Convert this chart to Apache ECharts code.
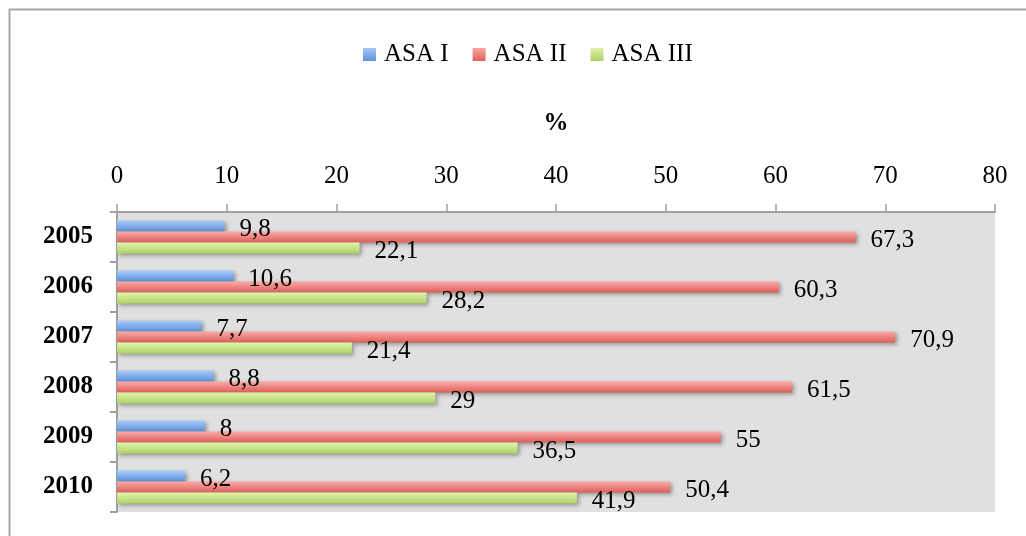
<!DOCTYPE html>
<html>
<head>
<meta charset="utf-8">
<script src="https://cdn.jsdelivr.net/npm/echarts@6/dist/echarts.min.js"></script>
<style>
  html, body { margin: 0; padding: 0; background: #ffffff; }
  #chart { width: 1026px; height: 536px; }
</style>
</head>
<body>
<div id="chart"></div>
<script>
// Years shown on the category axis, top to bottom
const years = ['2005', '2006', '2007', '2008', '2009', '2010'];
// Share of patients per ASA class, %
const asaI = [9.8, 10.6, 7.7, 8.8, 8, 6.2];
const asaII = [67.3, 60.3, 70.9, 61.5, 55, 50.4];
const asaIII = [22.1, 28.2, 21.4, 29, 36.5, 41.9];
const seriesNames = ['ASA I', 'ASA II', 'ASA III'];

const serif = '"Liberation Serif", "Times New Roman", serif';
const fontSize = 25;

function grad(top, bottom) {
  return new echarts.graphic.LinearGradient(0, 0, 0, 1, [
    { offset: 0, color: top },
    { offset: 1, color: bottom }
  ]);
}

const fills = [
  grad('#aacbfa', '#5a92da'),
  grad('#fcaaa8', '#de5f58'),
  grad('#e2f4ab', '#afd266')
];
const legendFills = [
  grad('#a6c8f8', '#5b93da'),
  grad('#fba6a3', '#df625b'),
  grad('#def2a6', '#b0d268')
];

function barSeries(name, values, idx) {
  return {
    name: name,
    type: 'bar',
    data: values,
    barGap: '0%',
    barCategoryGap: '34%',
    itemStyle: {
      color: fills[idx],
      shadowColor: 'rgba(0,0,0,0.35)',
      shadowBlur: 4,
      shadowOffsetX: 2,
      shadowOffsetY: 2
    },
    label: {
      show: true,
      position: 'right',
      distance: 15,
      offset: [0, 3],
      fontFamily: serif,
      fontSize: fontSize,
      color: '#000000',
      formatter: p => String(p.value).replace('.', ',')
    }
  };
}

const chart = echarts.init(document.getElementById('chart'), null, { renderer: 'canvas' });
chart.setOption({
  animation: false,
  backgroundColor: '#ffffff',
  graphic: [{
    type: 'rect',
    shape: { x: 9.5, y: 9.5, width: 1040, height: 560 },
    style: { fill: 'none', stroke: '#a6a6a6', lineWidth: 2 },
    z: -10
  }],
  legend: {
    data: seriesNames.map((n, i) => ({
      name: n,
      itemStyle: { color: legendFills[i], shadowBlur: 0, shadowOffsetX: 0, shadowOffsetY: 0 }
    })),
    top: 37,
    left: 358,
    itemWidth: 13,
    itemHeight: 13,
    itemGap: 24,
    icon: 'rect',
    textStyle: { fontFamily: serif, fontSize: fontSize, color: '#000000', padding: [0, 0, 0, 3] }
  },
  grid: {
    left: 117,
    right: 31,
    top: 212,
    bottom: 24,
    show: true,
    backgroundColor: '#e0e0e0',
    borderWidth: 0
  },
  xAxis: {
    type: 'value',
    position: 'top',
    min: 0,
    max: 80,
    interval: 10,
    name: '%',
    nameLocation: 'middle',
    nameGap: 76,
    nameTextStyle: { fontFamily: serif, fontSize: fontSize, fontWeight: 'bold', color: '#000000' },
    axisLine: { show: true, lineStyle: { color: '#a0a0a0', width: 2 } },
    axisTick: { show: true, length: 8, lineStyle: { color: '#a0a0a0', width: 1.5 } },
    axisLabel: { margin: 23, fontFamily: serif, fontSize: fontSize, color: '#000000' },
    splitLine: { show: false }
  },
  yAxis: {
    type: 'category',
    data: years,
    inverse: true,
    axisLine: { show: true, lineStyle: { color: '#a0a0a0', width: 2 } },
    axisTick: { show: true, length: 7, lineStyle: { color: '#a0a0a0', width: 2 } },
    axisLabel: {
      margin: 24,
      padding: [8, 0, 0, 0],
      fontFamily: serif,
      fontSize: fontSize,
      fontWeight: 'bold',
      color: '#000000'
    }
  },
  series: [
    barSeries(seriesNames[0], asaI, 0),
    barSeries(seriesNames[1], asaII, 1),
    barSeries(seriesNames[2], asaIII, 2)
  ]
});
</script>
</body>
</html>
